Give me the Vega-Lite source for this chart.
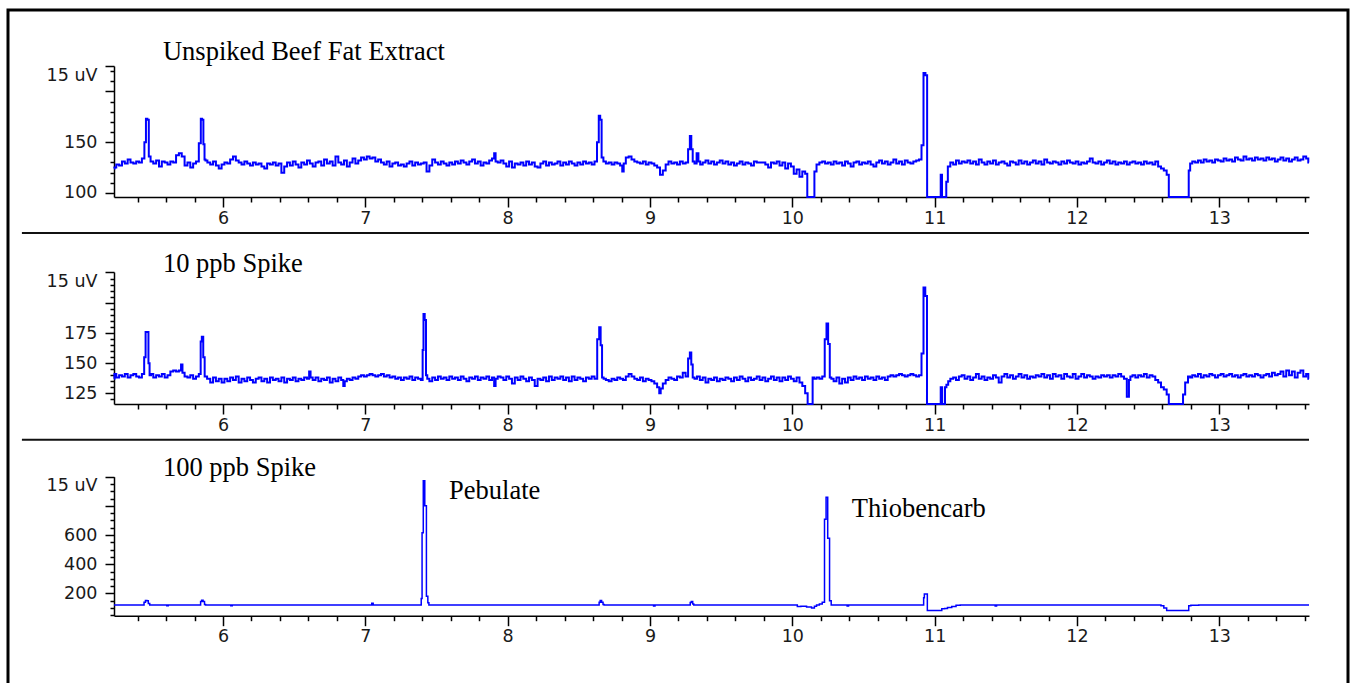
{
"$schema": "https://vega.github.io/schema/vega-lite/v6.json",
"width": 1340, "height": 680,
"autosize": {"type": "none"},
"padding": {"left": 8, "top": 10, "right": 3, "bottom": 0},
"background": "white",
"config": {
 "view": {"stroke": "black", "strokeWidth": 3},
 "axis": {"labelFont": "DejaVu Sans", "labelFontSize": 17.5, "labelColor": "#1a1a1a", "domainColor": "#000", "domainWidth": 1.5, "tickColor": "#000", "tickWidth": 1.5, "grid": false, "labelOverlap": false, "labelFlush": false, "tickCount": 500}
},
"datasets": {
 "notes": [{"label": "Unspiked Beef Fat Extract"}, {"label": "10 ppb Spike"}, {"label": "100 ppb Spike"}, {"label": "Pebulate"}, {"label": "Thiobencarb"}],
 "p1": [
{"t":5.234,"v":124},{"t":5.24,"v":125},{"t":5.26,"v":128},{"t":5.28,"v":127},{"t":5.30,"v":131},{"t":5.32,"v":129},{"t":5.34,"v":133},{"t":5.36,"v":130},{"t":5.38,"v":129},{"t":5.40,"v":131},{"t":5.42,"v":130},{"t":5.44,"v":134},{"t":5.455,"v":150},{"t":5.462,"v":173},{"t":5.475,"v":172},{"t":5.482,"v":136},{"t":5.50,"v":131},{"t":5.52,"v":129},{"t":5.54,"v":132},{"t":5.56,"v":126},{"t":5.58,"v":131},{"t":5.60,"v":130},{"t":5.62,"v":128},{"t":5.64,"v":131},{"t":5.66,"v":130},{"t":5.68,"v":137},{"t":5.70,"v":139},{"t":5.72,"v":136},{"t":5.74,"v":127},{"t":5.76,"v":130},{"t":5.78,"v":125},{"t":5.80,"v":129},{"t":5.82,"v":131},{"t":5.84,"v":149},{"t":5.848,"v":173},{"t":5.858,"v":172},{"t":5.866,"v":148},{"t":5.874,"v":133},{"t":5.88,"v":132},{"t":5.90,"v":130},{"t":5.92,"v":128},{"t":5.94,"v":131},{"t":5.96,"v":127},{"t":5.98,"v":124},{"t":6.00,"v":128},{"t":6.02,"v":130},{"t":6.04,"v":129},{"t":6.06,"v":133},{"t":6.08,"v":136},{"t":6.10,"v":132},{"t":6.12,"v":130},{"t":6.14,"v":128},{"t":6.16,"v":131},{"t":6.18,"v":129},{"t":6.20,"v":127},{"t":6.22,"v":130},{"t":6.24,"v":128},{"t":6.26,"v":129},{"t":6.28,"v":126},{"t":6.30,"v":124},{"t":6.32,"v":129},{"t":6.34,"v":128},{"t":6.36,"v":130},{"t":6.38,"v":127},{"t":6.40,"v":129},{"t":6.42,"v":120},{"t":6.44,"v":126},{"t":6.46,"v":130},{"t":6.48,"v":127},{"t":6.50,"v":131},{"t":6.52,"v":128},{"t":6.54,"v":125},{"t":6.56,"v":130},{"t":6.58,"v":128},{"t":6.60,"v":132},{"t":6.62,"v":129},{"t":6.64,"v":126},{"t":6.66,"v":130},{"t":6.68,"v":131},{"t":6.70,"v":127},{"t":6.72,"v":133},{"t":6.74,"v":129},{"t":6.76,"v":131},{"t":6.78,"v":127},{"t":6.80,"v":136},{"t":6.82,"v":130},{"t":6.84,"v":128},{"t":6.86,"v":132},{"t":6.88,"v":126},{"t":6.90,"v":130},{"t":6.92,"v":134},{"t":6.94,"v":129},{"t":6.96,"v":132},{"t":6.98,"v":135},{"t":7.00,"v":133},{"t":7.02,"v":136},{"t":7.04,"v":134},{"t":7.06,"v":135},{"t":7.08,"v":131},{"t":7.10,"v":133},{"t":7.12,"v":130},{"t":7.14,"v":128},{"t":7.16,"v":131},{"t":7.18,"v":126},{"t":7.20,"v":129},{"t":7.22,"v":130},{"t":7.24,"v":127},{"t":7.26,"v":128},{"t":7.28,"v":126},{"t":7.30,"v":129},{"t":7.32,"v":131},{"t":7.34,"v":127},{"t":7.36,"v":130},{"t":7.38,"v":128},{"t":7.40,"v":129},{"t":7.42,"v":130},{"t":7.44,"v":121},{"t":7.46,"v":127},{"t":7.48,"v":133},{"t":7.50,"v":130},{"t":7.52,"v":128},{"t":7.54,"v":131},{"t":7.56,"v":129},{"t":7.58,"v":127},{"t":7.60,"v":130},{"t":7.62,"v":128},{"t":7.64,"v":131},{"t":7.66,"v":129},{"t":7.68,"v":132},{"t":7.70,"v":130},{"t":7.72,"v":128},{"t":7.74,"v":131},{"t":7.76,"v":133},{"t":7.78,"v":129},{"t":7.80,"v":131},{"t":7.82,"v":127},{"t":7.84,"v":130},{"t":7.86,"v":129},{"t":7.88,"v":132},{"t":7.90,"v":134},{"t":7.91,"v":139},{"t":7.92,"v":131},{"t":7.94,"v":130},{"t":7.96,"v":132},{"t":7.98,"v":129},{"t":8.00,"v":126},{"t":8.02,"v":131},{"t":8.04,"v":125},{"t":8.06,"v":129},{"t":8.08,"v":128},{"t":8.10,"v":130},{"t":8.12,"v":127},{"t":8.14,"v":131},{"t":8.16,"v":128},{"t":8.18,"v":130},{"t":8.20,"v":126},{"t":8.22,"v":125},{"t":8.24,"v":129},{"t":8.26,"v":131},{"t":8.28,"v":127},{"t":8.30,"v":130},{"t":8.32,"v":128},{"t":8.34,"v":129},{"t":8.36,"v":131},{"t":8.38,"v":127},{"t":8.40,"v":130},{"t":8.42,"v":128},{"t":8.44,"v":131},{"t":8.46,"v":129},{"t":8.48,"v":127},{"t":8.50,"v":130},{"t":8.52,"v":128},{"t":8.54,"v":131},{"t":8.56,"v":129},{"t":8.58,"v":130},{"t":8.60,"v":128},{"t":8.62,"v":131},{"t":8.635,"v":150},{"t":8.645,"v":176},{"t":8.655,"v":172},{"t":8.665,"v":135},{"t":8.68,"v":131},{"t":8.70,"v":129},{"t":8.72,"v":130},{"t":8.74,"v":128},{"t":8.76,"v":130},{"t":8.78,"v":129},{"t":8.80,"v":127},{"t":8.81,"v":121},{"t":8.82,"v":129},{"t":8.84,"v":135},{"t":8.86,"v":136},{"t":8.88,"v":133},{"t":8.90,"v":131},{"t":8.92,"v":130},{"t":8.94,"v":129},{"t":8.96,"v":131},{"t":8.98,"v":128},{"t":9.00,"v":130},{"t":9.02,"v":129},{"t":9.04,"v":127},{"t":9.06,"v":125},{"t":9.08,"v":118},{"t":9.10,"v":122},{"t":9.12,"v":128},{"t":9.14,"v":131},{"t":9.16,"v":129},{"t":9.18,"v":130},{"t":9.20,"v":128},{"t":9.22,"v":131},{"t":9.24,"v":129},{"t":9.26,"v":130},{"t":9.275,"v":143},{"t":9.285,"v":156},{"t":9.295,"v":143},{"t":9.305,"v":131},{"t":9.32,"v":129},{"t":9.335,"v":139},{"t":9.345,"v":131},{"t":9.36,"v":128},{"t":9.38,"v":130},{"t":9.40,"v":132},{"t":9.42,"v":129},{"t":9.44,"v":131},{"t":9.46,"v":128},{"t":9.48,"v":130},{"t":9.50,"v":132},{"t":9.52,"v":129},{"t":9.54,"v":131},{"t":9.56,"v":128},{"t":9.58,"v":130},{"t":9.60,"v":127},{"t":9.62,"v":129},{"t":9.64,"v":131},{"t":9.66,"v":128},{"t":9.68,"v":130},{"t":9.70,"v":129},{"t":9.72,"v":127},{"t":9.74,"v":131},{"t":9.76,"v":130},{"t":9.78,"v":130},{"t":9.80,"v":130},{"t":9.82,"v":128},{"t":9.84,"v":125},{"t":9.86,"v":130},{"t":9.88,"v":129},{"t":9.90,"v":131},{"t":9.92,"v":127},{"t":9.94,"v":130},{"t":9.96,"v":124},{"t":9.98,"v":129},{"t":10.00,"v":126},{"t":10.02,"v":119},{"t":10.04,"v":123},{"t":10.06,"v":116},{"t":10.08,"v":121},{"t":10.10,"v":119},{"t":10.11,"v":96},{"t":10.15,"v":96},{"t":10.16,"v":121},{"t":10.18,"v":128},{"t":10.20,"v":130},{"t":10.22,"v":131},{"t":10.24,"v":129},{"t":10.26,"v":130},{"t":10.28,"v":128},{"t":10.30,"v":131},{"t":10.32,"v":129},{"t":10.34,"v":130},{"t":10.36,"v":127},{"t":10.38,"v":131},{"t":10.40,"v":129},{"t":10.42,"v":126},{"t":10.44,"v":130},{"t":10.46,"v":131},{"t":10.48,"v":128},{"t":10.50,"v":130},{"t":10.52,"v":129},{"t":10.54,"v":131},{"t":10.56,"v":128},{"t":10.58,"v":126},{"t":10.60,"v":130},{"t":10.62,"v":132},{"t":10.64,"v":129},{"t":10.66,"v":131},{"t":10.68,"v":128},{"t":10.70,"v":130},{"t":10.72,"v":133},{"t":10.74,"v":129},{"t":10.76,"v":131},{"t":10.78,"v":128},{"t":10.80,"v":132},{"t":10.82,"v":130},{"t":10.84,"v":129},{"t":10.86,"v":131},{"t":10.88,"v":132},{"t":10.90,"v":133},{"t":10.915,"v":147},{"t":10.928,"v":218},{"t":10.942,"v":216},{"t":10.952,"v":96},{"t":11.04,"v":96},{"t":11.045,"v":118},{"t":11.058,"v":96},{"t":11.078,"v":96},{"t":11.085,"v":111},{"t":11.10,"v":126},{"t":11.12,"v":130},{"t":11.14,"v":128},{"t":11.16,"v":132},{"t":11.18,"v":129},{"t":11.20,"v":131},{"t":11.22,"v":130},{"t":11.24,"v":132},{"t":11.26,"v":129},{"t":11.28,"v":131},{"t":11.30,"v":128},{"t":11.32,"v":133},{"t":11.34,"v":130},{"t":11.36,"v":128},{"t":11.38,"v":131},{"t":11.40,"v":129},{"t":11.42,"v":132},{"t":11.44,"v":128},{"t":11.46,"v":130},{"t":11.48,"v":131},{"t":11.50,"v":129},{"t":11.52,"v":127},{"t":11.54,"v":131},{"t":11.56,"v":130},{"t":11.58,"v":128},{"t":11.60,"v":132},{"t":11.62,"v":129},{"t":11.64,"v":131},{"t":11.66,"v":128},{"t":11.68,"v":130},{"t":11.70,"v":132},{"t":11.72,"v":129},{"t":11.74,"v":131},{"t":11.76,"v":128},{"t":11.78,"v":133},{"t":11.80,"v":130},{"t":11.82,"v":129},{"t":11.84,"v":131},{"t":11.86,"v":130},{"t":11.88,"v":128},{"t":11.90,"v":131},{"t":11.92,"v":129},{"t":11.94,"v":132},{"t":11.96,"v":130},{"t":11.98,"v":129},{"t":12.00,"v":131},{"t":12.02,"v":128},{"t":12.04,"v":130},{"t":12.06,"v":129},{"t":12.08,"v":131},{"t":12.10,"v":134},{"t":12.12,"v":130},{"t":12.14,"v":129},{"t":12.16,"v":131},{"t":12.18,"v":128},{"t":12.20,"v":130},{"t":12.22,"v":132},{"t":12.24,"v":129},{"t":12.26,"v":131},{"t":12.28,"v":128},{"t":12.30,"v":130},{"t":12.32,"v":129},{"t":12.34,"v":131},{"t":12.36,"v":128},{"t":12.38,"v":130},{"t":12.40,"v":131},{"t":12.42,"v":129},{"t":12.44,"v":130},{"t":12.46,"v":128},{"t":12.48,"v":131},{"t":12.50,"v":129},{"t":12.52,"v":130},{"t":12.54,"v":128},{"t":12.56,"v":131},{"t":12.58,"v":126},{"t":12.60,"v":124},{"t":12.62,"v":122},{"t":12.64,"v":118},{"t":12.65,"v":96},{"t":12.78,"v":96},{"t":12.79,"v":122},{"t":12.80,"v":129},{"t":12.82,"v":131},{"t":12.84,"v":130},{"t":12.86,"v":132},{"t":12.88,"v":130},{"t":12.90,"v":133},{"t":12.92,"v":131},{"t":12.94,"v":132},{"t":12.96,"v":130},{"t":12.98,"v":133},{"t":13.00,"v":132},{"t":13.02,"v":131},{"t":13.04,"v":134},{"t":13.06,"v":132},{"t":13.08,"v":133},{"t":13.10,"v":131},{"t":13.12,"v":135},{"t":13.14,"v":133},{"t":13.16,"v":132},{"t":13.18,"v":136},{"t":13.20,"v":133},{"t":13.22,"v":134},{"t":13.24,"v":132},{"t":13.26,"v":135},{"t":13.28,"v":133},{"t":13.30,"v":134},{"t":13.32,"v":132},{"t":13.34,"v":135},{"t":13.36,"v":133},{"t":13.38,"v":134},{"t":13.40,"v":131},{"t":13.42,"v":133},{"t":13.44,"v":135},{"t":13.46,"v":132},{"t":13.48,"v":134},{"t":13.50,"v":131},{"t":13.52,"v":133},{"t":13.54,"v":135},{"t":13.56,"v":132},{"t":13.58,"v":133},{"t":13.60,"v":136},{"t":13.62,"v":134},{"t":13.63,"v":130}
 ],
 "p2": [
{"t":5.234,"v":137},{"t":5.24,"v":141},{"t":5.26,"v":138},{"t":5.28,"v":140},{"t":5.30,"v":139},{"t":5.32,"v":141},{"t":5.34,"v":138},{"t":5.36,"v":140},{"t":5.38,"v":141},{"t":5.40,"v":139},{"t":5.42,"v":138},{"t":5.44,"v":141},{"t":5.452,"v":155},{"t":5.46,"v":176},{"t":5.472,"v":176},{"t":5.48,"v":150},{"t":5.488,"v":140},{"t":5.50,"v":141},{"t":5.52,"v":138},{"t":5.54,"v":140},{"t":5.56,"v":139},{"t":5.58,"v":141},{"t":5.60,"v":138},{"t":5.62,"v":140},{"t":5.64,"v":143},{"t":5.66,"v":144},{"t":5.68,"v":143},{"t":5.70,"v":144},{"t":5.71,"v":149},{"t":5.72,"v":142},{"t":5.74,"v":139},{"t":5.76,"v":138},{"t":5.78,"v":140},{"t":5.80,"v":137},{"t":5.82,"v":139},{"t":5.84,"v":141},{"t":5.846,"v":168},{"t":5.856,"v":172},{"t":5.866,"v":155},{"t":5.876,"v":139},{"t":5.90,"v":137},{"t":5.92,"v":134},{"t":5.94,"v":138},{"t":5.96,"v":135},{"t":5.98,"v":137},{"t":6.00,"v":134},{"t":6.02,"v":137},{"t":6.04,"v":135},{"t":6.06,"v":138},{"t":6.08,"v":136},{"t":6.10,"v":139},{"t":6.12,"v":134},{"t":6.14,"v":137},{"t":6.16,"v":135},{"t":6.18,"v":138},{"t":6.20,"v":136},{"t":6.22,"v":134},{"t":6.24,"v":137},{"t":6.26,"v":138},{"t":6.28,"v":135},{"t":6.30,"v":137},{"t":6.32,"v":134},{"t":6.34,"v":138},{"t":6.36,"v":136},{"t":6.38,"v":137},{"t":6.40,"v":135},{"t":6.42,"v":138},{"t":6.44,"v":134},{"t":6.46,"v":137},{"t":6.48,"v":136},{"t":6.50,"v":138},{"t":6.52,"v":135},{"t":6.54,"v":137},{"t":6.56,"v":136},{"t":6.58,"v":138},{"t":6.60,"v":137},{"t":6.61,"v":143},{"t":6.62,"v":138},{"t":6.64,"v":136},{"t":6.66,"v":138},{"t":6.68,"v":135},{"t":6.70,"v":137},{"t":6.72,"v":136},{"t":6.74,"v":138},{"t":6.76,"v":134},{"t":6.78,"v":137},{"t":6.80,"v":135},{"t":6.82,"v":138},{"t":6.84,"v":136},{"t":6.85,"v":131},{"t":6.86,"v":135},{"t":6.88,"v":137},{"t":6.90,"v":136},{"t":6.92,"v":138},{"t":6.94,"v":137},{"t":6.96,"v":139},{"t":6.98,"v":140},{"t":7.00,"v":139},{"t":7.02,"v":140},{"t":7.04,"v":141},{"t":7.06,"v":140},{"t":7.08,"v":139},{"t":7.10,"v":140},{"t":7.12,"v":141},{"t":7.14,"v":139},{"t":7.16,"v":140},{"t":7.18,"v":138},{"t":7.20,"v":139},{"t":7.22,"v":137},{"t":7.24,"v":138},{"t":7.26,"v":136},{"t":7.28,"v":138},{"t":7.30,"v":137},{"t":7.32,"v":139},{"t":7.34,"v":136},{"t":7.36,"v":138},{"t":7.38,"v":137},{"t":7.40,"v":136},{"t":7.405,"v":161},{"t":7.412,"v":191},{"t":7.422,"v":186},{"t":7.43,"v":140},{"t":7.44,"v":137},{"t":7.46,"v":135},{"t":7.48,"v":138},{"t":7.50,"v":136},{"t":7.52,"v":139},{"t":7.54,"v":137},{"t":7.56,"v":138},{"t":7.58,"v":136},{"t":7.60,"v":139},{"t":7.62,"v":137},{"t":7.64,"v":138},{"t":7.66,"v":136},{"t":7.68,"v":139},{"t":7.70,"v":137},{"t":7.72,"v":135},{"t":7.74,"v":138},{"t":7.76,"v":137},{"t":7.78,"v":139},{"t":7.80,"v":136},{"t":7.82,"v":138},{"t":7.84,"v":137},{"t":7.86,"v":139},{"t":7.88,"v":136},{"t":7.90,"v":138},{"t":7.91,"v":131},{"t":7.92,"v":137},{"t":7.94,"v":139},{"t":7.96,"v":138},{"t":7.98,"v":136},{"t":8.00,"v":139},{"t":8.02,"v":137},{"t":8.04,"v":133},{"t":8.06,"v":138},{"t":8.08,"v":136},{"t":8.10,"v":139},{"t":8.12,"v":137},{"t":8.14,"v":135},{"t":8.16,"v":138},{"t":8.18,"v":136},{"t":8.20,"v":131},{"t":8.22,"v":137},{"t":8.24,"v":136},{"t":8.26,"v":138},{"t":8.28,"v":135},{"t":8.30,"v":139},{"t":8.32,"v":136},{"t":8.34,"v":138},{"t":8.36,"v":137},{"t":8.38,"v":139},{"t":8.40,"v":136},{"t":8.42,"v":138},{"t":8.44,"v":135},{"t":8.46,"v":139},{"t":8.48,"v":136},{"t":8.50,"v":138},{"t":8.52,"v":137},{"t":8.54,"v":135},{"t":8.56,"v":138},{"t":8.58,"v":137},{"t":8.60,"v":139},{"t":8.62,"v":137},{"t":8.638,"v":170},{"t":8.648,"v":180},{"t":8.658,"v":165},{"t":8.668,"v":138},{"t":8.68,"v":137},{"t":8.70,"v":136},{"t":8.72,"v":135},{"t":8.74,"v":137},{"t":8.76,"v":136},{"t":8.78,"v":138},{"t":8.80,"v":137},{"t":8.82,"v":136},{"t":8.84,"v":139},{"t":8.86,"v":141},{"t":8.88,"v":139},{"t":8.90,"v":137},{"t":8.92,"v":136},{"t":8.94,"v":138},{"t":8.96,"v":135},{"t":8.98,"v":137},{"t":9.00,"v":136},{"t":9.02,"v":135},{"t":9.04,"v":133},{"t":9.06,"v":130},{"t":9.07,"v":125},{"t":9.08,"v":129},{"t":9.10,"v":133},{"t":9.12,"v":136},{"t":9.14,"v":138},{"t":9.16,"v":137},{"t":9.18,"v":136},{"t":9.20,"v":139},{"t":9.22,"v":138},{"t":9.24,"v":142},{"t":9.26,"v":139},{"t":9.275,"v":154},{"t":9.285,"v":159},{"t":9.295,"v":149},{"t":9.305,"v":138},{"t":9.32,"v":137},{"t":9.34,"v":139},{"t":9.36,"v":136},{"t":9.38,"v":138},{"t":9.40,"v":134},{"t":9.42,"v":137},{"t":9.44,"v":136},{"t":9.46,"v":138},{"t":9.48,"v":135},{"t":9.50,"v":137},{"t":9.52,"v":136},{"t":9.54,"v":138},{"t":9.56,"v":137},{"t":9.58,"v":135},{"t":9.60,"v":138},{"t":9.62,"v":136},{"t":9.64,"v":139},{"t":9.66,"v":137},{"t":9.68,"v":135},{"t":9.70,"v":138},{"t":9.72,"v":136},{"t":9.74,"v":137},{"t":9.76,"v":139},{"t":9.78,"v":136},{"t":9.80,"v":138},{"t":9.82,"v":135},{"t":9.84,"v":137},{"t":9.86,"v":139},{"t":9.88,"v":136},{"t":9.90,"v":138},{"t":9.92,"v":135},{"t":9.94,"v":138},{"t":9.96,"v":136},{"t":9.98,"v":139},{"t":10.00,"v":137},{"t":10.02,"v":135},{"t":10.04,"v":138},{"t":10.06,"v":134},{"t":10.08,"v":131},{"t":10.10,"v":125},{"t":10.115,"v":116},{"t":10.14,"v":116},{"t":10.145,"v":138},{"t":10.16,"v":137},{"t":10.18,"v":138},{"t":10.20,"v":137},{"t":10.22,"v":139},{"t":10.235,"v":170},{"t":10.245,"v":183},{"t":10.258,"v":166},{"t":10.268,"v":138},{"t":10.28,"v":137},{"t":10.30,"v":135},{"t":10.32,"v":138},{"t":10.34,"v":133},{"t":10.36,"v":137},{"t":10.38,"v":134},{"t":10.40,"v":138},{"t":10.42,"v":136},{"t":10.44,"v":139},{"t":10.46,"v":137},{"t":10.48,"v":138},{"t":10.50,"v":136},{"t":10.52,"v":139},{"t":10.54,"v":137},{"t":10.56,"v":138},{"t":10.58,"v":136},{"t":10.60,"v":139},{"t":10.62,"v":137},{"t":10.64,"v":138},{"t":10.66,"v":136},{"t":10.68,"v":139},{"t":10.70,"v":140},{"t":10.72,"v":139},{"t":10.74,"v":140},{"t":10.76,"v":141},{"t":10.78,"v":140},{"t":10.80,"v":139},{"t":10.82,"v":140},{"t":10.84,"v":141},{"t":10.86,"v":140},{"t":10.88,"v":139},{"t":10.90,"v":140},{"t":10.915,"v":158},{"t":10.928,"v":213},{"t":10.94,"v":206},{"t":10.952,"v":116},{"t":11.04,"v":116},{"t":11.045,"v":130},{"t":11.06,"v":116},{"t":11.07,"v":116},{"t":11.075,"v":130},{"t":11.09,"v":132},{"t":11.10,"v":135},{"t":11.12,"v":137},{"t":11.14,"v":138},{"t":11.16,"v":136},{"t":11.18,"v":139},{"t":11.20,"v":140},{"t":11.22,"v":137},{"t":11.24,"v":139},{"t":11.26,"v":136},{"t":11.28,"v":138},{"t":11.30,"v":141},{"t":11.32,"v":137},{"t":11.34,"v":139},{"t":11.36,"v":136},{"t":11.38,"v":138},{"t":11.40,"v":137},{"t":11.42,"v":140},{"t":11.44,"v":138},{"t":11.46,"v":134},{"t":11.48,"v":139},{"t":11.50,"v":141},{"t":11.52,"v":138},{"t":11.54,"v":140},{"t":11.56,"v":137},{"t":11.58,"v":139},{"t":11.60,"v":141},{"t":11.62,"v":138},{"t":11.64,"v":140},{"t":11.66,"v":137},{"t":11.68,"v":139},{"t":11.70,"v":138},{"t":11.72,"v":140},{"t":11.74,"v":139},{"t":11.76,"v":141},{"t":11.78,"v":138},{"t":11.80,"v":140},{"t":11.82,"v":137},{"t":11.84,"v":141},{"t":11.86,"v":139},{"t":11.88,"v":140},{"t":11.90,"v":137},{"t":11.92,"v":141},{"t":11.94,"v":139},{"t":11.96,"v":138},{"t":11.98,"v":141},{"t":12.00,"v":137},{"t":12.02,"v":139},{"t":12.04,"v":141},{"t":12.06,"v":138},{"t":12.08,"v":140},{"t":12.10,"v":139},{"t":12.12,"v":137},{"t":12.14,"v":139},{"t":12.16,"v":138},{"t":12.18,"v":140},{"t":12.20,"v":139},{"t":12.22,"v":140},{"t":12.24,"v":138},{"t":12.26,"v":140},{"t":12.28,"v":139},{"t":12.30,"v":141},{"t":12.32,"v":139},{"t":12.34,"v":137},{"t":12.36,"v":122},{"t":12.37,"v":136},{"t":12.38,"v":139},{"t":12.40,"v":140},{"t":12.42,"v":138},{"t":12.44,"v":140},{"t":12.46,"v":139},{"t":12.48,"v":141},{"t":12.50,"v":138},{"t":12.52,"v":140},{"t":12.54,"v":139},{"t":12.56,"v":136},{"t":12.58,"v":134},{"t":12.60,"v":130},{"t":12.62,"v":128},{"t":12.64,"v":124},{"t":12.65,"v":116},{"t":12.74,"v":116},{"t":12.75,"v":124},{"t":12.77,"v":134},{"t":12.79,"v":139},{"t":12.80,"v":138},{"t":12.82,"v":140},{"t":12.84,"v":139},{"t":12.86,"v":141},{"t":12.88,"v":138},{"t":12.90,"v":140},{"t":12.92,"v":139},{"t":12.94,"v":141},{"t":12.96,"v":140},{"t":12.98,"v":138},{"t":13.00,"v":140},{"t":13.02,"v":141},{"t":13.04,"v":139},{"t":13.06,"v":140},{"t":13.08,"v":141},{"t":13.10,"v":139},{"t":13.12,"v":140},{"t":13.14,"v":138},{"t":13.16,"v":140},{"t":13.18,"v":141},{"t":13.20,"v":139},{"t":13.22,"v":140},{"t":13.24,"v":139},{"t":13.26,"v":141},{"t":13.28,"v":140},{"t":13.30,"v":138},{"t":13.32,"v":140},{"t":13.34,"v":141},{"t":13.36,"v":139},{"t":13.38,"v":142},{"t":13.40,"v":140},{"t":13.42,"v":141},{"t":13.44,"v":143},{"t":13.46,"v":139},{"t":13.48,"v":144},{"t":13.50,"v":140},{"t":13.52,"v":143},{"t":13.54,"v":138},{"t":13.56,"v":142},{"t":13.58,"v":144},{"t":13.60,"v":139},{"t":13.62,"v":141},{"t":13.63,"v":137}
 ],
 "p3": [
{"t":5.234,"v":121},{"t":5.44,"v":121},{"t":5.45,"v":140},{"t":5.46,"v":152},{"t":5.47,"v":150},{"t":5.48,"v":130},{"t":5.49,"v":121},{"t":5.60,"v":121},{"t":5.61,"v":116},{"t":5.62,"v":121},{"t":5.84,"v":121},{"t":5.845,"v":145},{"t":5.855,"v":153},{"t":5.865,"v":145},{"t":5.875,"v":123},{"t":5.88,"v":121},{"t":6.05,"v":121},{"t":6.06,"v":116},{"t":6.07,"v":121},{"t":7.04,"v":121},{"t":7.05,"v":132},{"t":7.06,"v":121},{"t":7.39,"v":121},{"t":7.395,"v":165},{"t":7.402,"v":615},{"t":7.412,"v":973},{"t":7.423,"v":800},{"t":7.435,"v":180},{"t":7.443,"v":135},{"t":7.45,"v":121},{"t":8.64,"v":121},{"t":8.645,"v":140},{"t":8.655,"v":152},{"t":8.665,"v":140},{"t":8.675,"v":123},{"t":8.68,"v":121},{"t":9.02,"v":121},{"t":9.03,"v":113},{"t":9.04,"v":121},{"t":9.28,"v":121},{"t":9.285,"v":138},{"t":9.295,"v":145},{"t":9.305,"v":128},{"t":9.31,"v":121},{"t":10.03,"v":121},{"t":10.04,"v":110},{"t":10.08,"v":112},{"t":10.12,"v":106},{"t":10.15,"v":100},{"t":10.16,"v":112},{"t":10.18,"v":120},{"t":10.20,"v":128},{"t":10.22,"v":140},{"t":10.232,"v":708},{"t":10.242,"v":859},{"t":10.255,"v":578},{"t":10.268,"v":150},{"t":10.278,"v":121},{"t":10.38,"v":121},{"t":10.39,"v":113},{"t":10.40,"v":121},{"t":10.92,"v":121},{"t":10.925,"v":170},{"t":10.93,"v":196},{"t":10.945,"v":196},{"t":10.952,"v":82},{"t":11.04,"v":82},{"t":11.06,"v":95},{"t":11.08,"v":97},{"t":11.10,"v":104},{"t":11.14,"v":110},{"t":11.16,"v":118},{"t":11.20,"v":121},{"t":11.42,"v":121},{"t":11.43,"v":114},{"t":11.44,"v":121},{"t":12.58,"v":121},{"t":12.60,"v":115},{"t":12.62,"v":100},{"t":12.64,"v":82},{"t":12.78,"v":82},{"t":12.79,"v":115},{"t":12.81,"v":119},{"t":12.90,"v":121},{"t":13.63,"v":121}
 ]
},
"layer": [
 {
  "layer": [
   {
    "data": {"name": "p1"},
    "mark": {"type": "line", "color": "#0000ff", "strokeWidth": 2, "interpolate": "step"},
    "encoding": {
     "x": {"field": "t", "type": "quantitative", "scale": {"domain": [5.234, 13.63], "range": [106, 1301], "nice": false, "zero": false},
      "axis": {"orient": "bottom", "offset": -493, "title": null, "tickCount": 500, "values": [5.4,5.6,5.8,6,6.2,6.4,6.6,6.8,7,7.2,7.4,7.6,7.8,8,8.2,8.4,8.6,8.8,9,9.2,9.4,9.6,9.8,10,10.2,10.4,10.6,10.8,11,11.2,11.4,11.6,11.8,12,12.2,12.4,12.6,12.8,13,13.2,13.4,13.6], "labelExpr": "datum.value % 1 == 0 ? format(datum.value, 'd') : ''", "labelFontSize": {"condition": {"test": "datum.value % 1 == 0", "value": 17.5}, "value": 0}, "tickSize": {"condition": {"test": "datum.value % 1 == 0", "value": 10}, "value": 5}, "labelPadding": 2, "labelOverlap": false, "labelFlush": false}},
     "y": {"field": "v", "type": "quantitative", "scale": {"domain": [96, 225], "range": [187, 56], "nice": false, "zero": false},
      "axis": {"orient": "left", "offset": -106, "title": null, "tickCount": 500, "values": [100,110,120,130,140,150,160,170,180,190,200,210,220,225], "labelExpr": "datum.value == 225 ? '15 uV' : (datum.value == 100 || datum.value == 150) ? format(datum.value, 'd') : ''", "labelFontSize": {"condition": {"test": "datum.value == 225 || datum.value == 100 || datum.value == 150", "value": 17.5}, "value": 0}, "tickSize": {"condition": {"test": "datum.value % 50 == 0 || datum.value == 225", "value": 9}, "value": 4}, "labelOffset": {"condition": {"test": "datum.value == 225", "value": 9}, "value": 0}, "labelPadding": 8, "labelOverlap": false, "labelFlush": false}}
    }
   },
   {
    "data": {"name": "notes"},
    "transform": [{"filter": "datum.label == 'Unspiked Beef Fat Extract'"}],
    "mark": {"type": "text", "font": "Liberation Serif", "fontSize": 26.5, "align": "left", "baseline": "alphabetic", "color": "black"},
    "encoding": {"x": {"datum": 5.578, "type": "quantitative"}, "y": {"datum": 231.4, "type": "quantitative"}, "text": {"field": "label"}}
   }
  ]
 },
 {
  "layer": [
   {
    "data": {"name": "p2"},
    "mark": {"type": "line", "color": "#0000ff", "strokeWidth": 2, "interpolate": "step"},
    "encoding": {
     "x": {"field": "t", "type": "quantitative", "scale": {"domain": [5.234, 13.63], "range": [106, 1301], "nice": false, "zero": false},
      "axis": {"orient": "bottom", "offset": -286, "title": null, "tickCount": 500, "values": [5.4,5.6,5.8,6,6.2,6.4,6.6,6.8,7,7.2,7.4,7.6,7.8,8,8.2,8.4,8.6,8.8,9,9.2,9.4,9.6,9.8,10,10.2,10.4,10.6,10.8,11,11.2,11.4,11.6,11.8,12,12.2,12.4,12.6,12.8,13,13.2,13.4,13.6], "labelExpr": "datum.value % 1 == 0 ? format(datum.value, 'd') : ''", "labelFontSize": {"condition": {"test": "datum.value % 1 == 0", "value": 17.5}, "value": 0}, "tickSize": {"condition": {"test": "datum.value % 1 == 0", "value": 10}, "value": 5}, "labelPadding": 2, "labelOverlap": false, "labelFlush": false}},
     "y": {"field": "v", "type": "quantitative", "scale": {"domain": [116, 226], "range": [394, 262], "nice": false, "zero": false},
      "axis": {"orient": "left", "offset": -106, "title": null, "tickCount": 500, "values": [120,125,130,135,140,145,150,155,160,165,170,175,180,185,190,195,200,205,210,215,220,226], "labelExpr": "datum.value == 226 ? '15 uV' : (datum.value == 125 || datum.value == 150 || datum.value == 175) ? format(datum.value, 'd') : ''", "labelFontSize": {"condition": {"test": "datum.value == 226 || datum.value == 125 || datum.value == 150 || datum.value == 175", "value": 17.5}, "value": 0}, "tickSize": {"condition": {"test": "datum.value % 25 == 0 || datum.value == 226", "value": 9}, "value": 4}, "labelOffset": {"condition": {"test": "datum.value == 226", "value": 9}, "value": 0}, "labelPadding": 8, "labelOverlap": false, "labelFlush": false}}
    }
   },
   {
    "data": {"name": "notes"},
    "transform": [{"filter": "datum.label == '10 ppb Spike'"}],
    "mark": {"type": "text", "font": "Liberation Serif", "fontSize": 26.5, "align": "left", "baseline": "alphabetic", "color": "black"},
    "encoding": {"x": {"datum": 5.578, "type": "quantitative"}, "y": {"datum": 226, "type": "quantitative"}, "text": {"field": "label"}}
   },
   {
    "data": {"name": "notes"},
    "transform": [{"filter": "datum.label == '10 ppb Spike'"}],
    "mark": {"type": "rule", "color": "#111111", "strokeWidth": 2},
    "encoding": {"x": {"datum": 4.587, "type": "quantitative"}, "x2": {"datum": 13.63}, "y": {"datum": 258.5, "type": "quantitative"}}
   }
  ]
 },
 {
  "layer": [
   {
    "data": {"name": "p3"},
    "mark": {"type": "line", "color": "#0000ff", "strokeWidth": 1.5, "interpolate": "step"},
    "encoding": {
     "x": {"field": "t", "type": "quantitative", "scale": {"domain": [5.234, 13.63], "range": [106, 1301], "nice": false, "zero": false},
      "axis": {"orient": "bottom", "offset": -74.3, "title": null, "tickCount": 500, "values": [5.4,5.6,5.8,6,6.2,6.4,6.6,6.8,7,7.2,7.4,7.6,7.8,8,8.2,8.4,8.6,8.8,9,9.2,9.4,9.6,9.8,10,10.2,10.4,10.6,10.8,11,11.2,11.4,11.6,11.8,12,12.2,12.4,12.6,12.8,13,13.2,13.4,13.6], "labelExpr": "datum.value % 1 == 0 ? format(datum.value, 'd') : ''", "labelFontSize": {"condition": {"test": "datum.value % 1 == 0", "value": 17.5}, "value": 0}, "tickSize": {"condition": {"test": "datum.value % 1 == 0", "value": 10}, "value": 5}, "labelPadding": 2, "labelOverlap": false, "labelFlush": false}},
     "y": {"field": "v", "type": "quantitative", "scale": {"domain": [47, 1000], "range": [605.7, 466.7], "nice": false, "zero": false},
      "axis": {"orient": "left", "offset": -106, "title": null, "tickCount": 500, "values": [50,100,150,200,250,300,350,400,450,500,550,600,650,700,750,800,850,900,950,1000], "labelExpr": "datum.value == 1000 ? '15 uV' : (datum.value == 200 || datum.value == 400 || datum.value == 600) ? format(datum.value, 'd') : ''", "labelFontSize": {"condition": {"test": "datum.value == 1000 || datum.value == 200 || datum.value == 400 || datum.value == 600", "value": 17.5}, "value": 0}, "tickSize": {"condition": {"test": "datum.value % 200 == 0", "value": 9}, "value": 4}, "labelOffset": {"condition": {"test": "datum.value == 1000", "value": 9}, "value": 0}, "labelPadding": 8, "labelOverlap": false, "labelFlush": false}}
    }
   },
   {
    "data": {"name": "notes"},
    "transform": [{"filter": "datum.label == '100 ppb Spike'"}],
    "mark": {"type": "text", "font": "Liberation Serif", "fontSize": 26.5, "align": "left", "baseline": "alphabetic", "color": "black"},
    "encoding": {"x": {"datum": 5.578, "type": "quantitative"}, "y": {"datum": 1004.8, "type": "quantitative"}, "text": {"field": "label"}}
   },
   {
    "data": {"name": "notes"},
    "transform": [{"filter": "datum.label == 'Pebulate'"}],
    "mark": {"type": "text", "font": "Liberation Serif", "fontSize": 26.5, "align": "left", "baseline": "alphabetic", "color": "black"},
    "encoding": {"x": {"datum": 7.588, "type": "quantitative"}, "y": {"datum": 845, "type": "quantitative"}, "text": {"field": "label"}}
   },
   {
    "data": {"name": "notes"},
    "transform": [{"filter": "datum.label == 'Thiobencarb'"}],
    "mark": {"type": "text", "font": "Liberation Serif", "fontSize": 26.5, "align": "left", "baseline": "alphabetic", "color": "black"},
    "encoding": {"x": {"datum": 10.418, "type": "quantitative"}, "y": {"datum": 721.6, "type": "quantitative"}, "text": {"field": "label"}}
   },
   {
    "data": {"name": "notes"},
    "transform": [{"filter": "datum.label == '100 ppb Spike'"}],
    "mark": {"type": "rule", "color": "#111111", "strokeWidth": 2},
    "encoding": {"x": {"datum": 4.587, "type": "quantitative"}, "x2": {"datum": 13.63}, "y": {"datum": 1253.7, "type": "quantitative"}}
   }
  ]
 }
],
"resolve": {"scale": {"y": "independent"}, "axis": {"x": "independent", "y": "independent"}}
}
